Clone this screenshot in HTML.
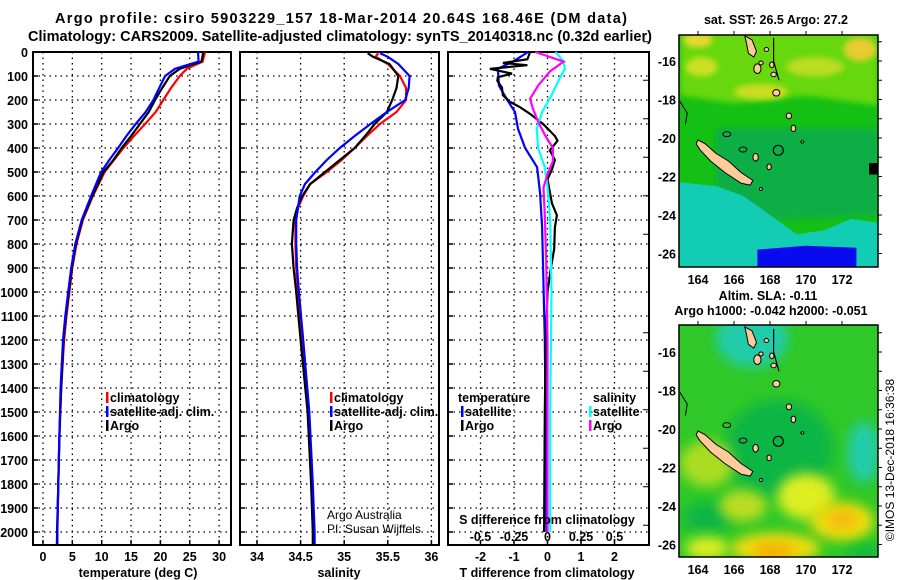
<!DOCTYPE html>
<html><head><meta charset="utf-8"><style>
body{margin:0;background:#fff}
svg{display:block;font-family:"Liberation Sans",sans-serif}
.b{font-weight:bold;font-size:12.5px}
.t{font-size:12px}
</style></head><body>
<svg id="s" width="900" height="580" viewBox="0 0 900 580">
<defs>
<clipPath id="c1"><rect x="679" y="35" width="199" height="232"/></clipPath>
<clipPath id="c2"><rect x="679" y="325" width="199" height="232"/></clipPath>
<filter id="bl" x="-50%" y="-50%" width="200%" height="200%"><feGaussianBlur stdDeviation="6"/></filter>
<filter id="bl2" x="-50%" y="-50%" width="200%" height="200%"><feGaussianBlur stdDeviation="3"/></filter>
</defs>
<text x="341" y="23" text-anchor="middle" class="b" style="font-size:14.5px" textLength="572">Argo profile: csiro 5903229_157 18-Mar-2014 20.64S 168.46E (DM data)</text>
<text x="340" y="41" text-anchor="middle" class="b" style="font-size:14.5px" textLength="624">Climatology: CARS2009. Satellite-adjusted climatology: synTS_20140318.nc (0.32d earlier)</text>
<g id="maps"></g>
<g id="plots"></g>
</svg>
<script>
// ---- Data ----
const tDepth=[0,40,55,70,100,150,200,250,300,350,400,450,500,600,700,800,900,1000,1100,1200,1400,1600,1800,2000,2050];
const tArgo=[27.3,27.0,25.0,23.3,21.6,20.3,19.1,18.0,16.5,15.0,13.4,12.0,10.3,8.4,6.7,5.6,4.9,4.4,3.9,3.5,3.1,2.8,2.6,2.4,2.4];
const tClim=[27.6,27.2,25.8,24.5,23.3,21.8,20.5,19.2,17.4,15.5,13.7,12.1,10.5,8.5,6.8,5.7,5.0,4.5,4.0,3.6,3.1,2.8,2.6,2.4,2.35];
const tSat=[26.4,26.5,24.5,22.5,20.8,19.8,18.8,17.5,15.8,14.2,12.8,11.3,9.9,8.2,6.6,5.5,4.8,4.3,3.8,3.4,3.0,2.8,2.6,2.45,2.45];
const sDepth=[5,20,50,100,150,200,250,300,350,400,450,500,550,600,650,700,800,900,1000,1200,1500,1800,2000,2050];
const sArgo=[35.27,35.33,35.52,35.62,35.60,35.55,35.49,35.35,35.24,35.12,34.95,34.78,34.61,34.52,34.46,34.42,34.40,34.42,34.45,34.50,34.58,34.62,34.64,34.64];
const sClim=[35.39,35.36,35.50,35.64,35.71,35.71,35.60,35.41,35.26,35.12,34.97,34.80,34.61,34.53,34.47,34.44,34.44,34.45,34.47,34.52,34.59,34.63,34.65,34.66];
const sSat=[35.41,35.50,35.62,35.75,35.74,35.70,35.49,35.30,35.12,34.95,34.80,34.67,34.55,34.49,34.47,34.45,34.45,34.46,34.48,34.53,34.60,34.64,34.66,34.66];
const dtArgoDepth=[0,30,46,55,70,90,105,120,148,180,208,230,258,300,350,370,410,450,490,530,630,680,730,820,900,1000,1200,1500,2000];
const dtArgo=[-0.52,-0.6,-1.33,-0.6,-1.72,-1.06,-1.48,-1.5,-1.36,-1.33,-1.12,-0.82,-0.52,-0.13,0.22,0.3,0.07,0.22,0.13,0.0,0.13,0.28,0.22,0.2,0.1,0.0,-0.05,-0.08,-0.1];
const dtSatDepth=[0,40,70,140,200,250,320,400,480,530,590,730,900,1200,1600,2000];
const dtSat=[-0.58,-1.03,-1.48,-1.45,-1.2,-0.97,-0.88,-0.67,-0.31,-0.27,-0.22,-0.16,-0.13,-0.08,-0.05,-0.03];
const dsArgoDepth=[0,40,80,140,195,235,290,345,400,455,510,565,680,870,1200,2000];
const dsArgo=[-0.09,0.12,0.02,-0.07,-0.13,-0.11,-0.07,-0.02,0.04,0.04,0.0,-0.03,-0.02,-0.01,0.0,0.0];
const dsSatDepth=[0,40,70,110,180,250,320,400,480,560,700,1000,1500,2000];
const dsSat=[0.06,0.12,0.13,0.09,0.03,-0.04,-0.08,-0.07,-0.02,0.0,0.02,0.03,0.02,0.02];
const depthTicks=[0,100,200,300,400,500,600,700,800,900,1000,1100,1200,1300,1400,1500,1600,1700,1800,1900,2000];
const tTicks=[0,5,10,15,20,25,30];
const sTicks=[34,34.5,35,35.5,36];
const sTickLabels=["34","34.5","35","35.5","36"];
const dTTicks=[-2,-1,0,1,2];
const dSTicks=[-0.5,-0.25,0,0.25,0.5];
const dSTickLabels=["-0.5","-0.25","0","0.25","0.5"];
const lonTicks=[164,166,168,170,172];
const latTicks=[-16,-18,-20,-22,-24,-26];

// ---- Scales ----
const yD=d=>52+d*0.24;
const xT=v=>43+v*5.87;
const xS=v=>257+(v-34)*87.2;
const xDT=v=>547.5+v*33.5;
const xDS=v=>547.5+v*134;
const NS="http://www.w3.org/2000/svg";
function mk(tag,attrs,parent,txt){const e=document.createElementNS(NS,tag);for(const k in attrs)e.setAttribute(k,attrs[k]);if(txt!==undefined)e.textContent=txt;parent.appendChild(e);return e;}
const P=document.getElementById('plots');
const M=document.getElementById('maps');

function panel(name,x0,x1,gridX,xs){
  const g=mk('g',{},P);
  
  
  depthTicks.forEach(d=>{ if(d>0){const l=mk('line',{x1:x0,x2:x1,y1:yD(d),y2:yD(d),stroke:'#000','stroke-width':1.3,'stroke-dasharray':'1.5,4'},g);
    
    }
    mk('line',{x1:x0,x2:x0+5,y1:yD(d),y2:yD(d),stroke:'#000','stroke-width':1.5},g);});
  gridX.forEach(v=>{const l=mk('line',{x1:xs(v),x2:xs(v),y1:52,y2:545,stroke:'#000','stroke-width':1.3,'stroke-dasharray':'1.5,4'},g);
    
    
    mk('line',{x1:xs(v),x2:xs(v),y1:545,y2:540,stroke:'#000','stroke-width':1.5},g);});
  const r=mk('rect',{x:x0,y:52,width:x1-x0,height:493,fill:'none',stroke:'#000','stroke-width':2},g);
  
  
  return g;
}
function line(g,name,depths,vals,xs,color){
  const pts=depths.map((d,i)=>xs(vals[i]).toFixed(1)+','+yD(d).toFixed(1)).join(' ');
  const p=mk('polyline',{points:pts,fill:'none',stroke:color,'stroke-width':2.2},g);
  
  
}
function txt(x,y,s,cls,anchor,name,color){
  const t=mk('text',{x:x,y:y,class:cls,'text-anchor':anchor||'start',fill:color||'#000'},P,s);
  
  
  return t;
}
function legendEntry(x,y,label,color,name){
  const b=mk('rect',{x:x-4,y:y-10,width:2.5,height:11,fill:color},P);
  
  
  txt(x,y,label,'b','start',name);
}

depthTicks.forEach(d=>{txt(28,yD(d)+5,String(d),'b','end','y-tick-label');});

// Panel 1
const g1=panel('temperature-panel',33,231,tTicks,xT);
line(g1,'temperature-climatology',tDepth,tClim,xT,'#f00');
line(g1,'temperature-argo',tDepth,tArgo,xT,'#000');
line(g1,'temperature-satellite',tDepth,tSat,xT,'#00f');
tTicks.forEach(v=>txt(xT(v),561,String(v),'b','middle','x-tick-label'));
txt(138,577,'temperature (deg C)','b','middle','x-axis-title');
legendEntry(110,402,'climatology','#f00','legend-climatology');
legendEntry(110,416,'satellite-adj. clim.','#00f','legend-satellite');
legendEntry(110,430,'Argo','#000','legend-argo');

// Panel 2
const g2=panel('salinity-panel',240,439,sTicks,xS);
line(g2,'salinity-climatology',sDepth,sClim,xS,'#f00');
line(g2,'salinity-argo',sDepth,sArgo,xS,'#000');
line(g2,'salinity-satellite',sDepth,sSat,xS,'#00f');
sTicks.forEach((v,i)=>txt(xS(v),561,sTickLabels[i],'b','middle','x-tick-label'));
txt(339,577,'salinity','b','middle','x-axis-title');
legendEntry(334,402,'climatology','#f00','legend-climatology');
legendEntry(334,416,'satellite-adj. clim.','#00f','legend-satellite');
legendEntry(334,430,'Argo','#000','legend-argo');
txt(327,519,'Argo Australia','t','start','credit-argo-australia');
txt(327,533,'PI: Susan Wijffels','t','start','credit-pi');

// Panel 3
const g3=panel('difference-panel',448,649,dTTicks,xDT);
line(g3,'t-diff-satellite',dtSatDepth,dtSat,xDT,'#00f');
line(g3,'t-diff-argo',dtArgoDepth,dtArgo,xDT,'#000');
line(g3,'s-diff-satellite',dsSatDepth,dsSat,xDS,'#0ff');
line(g3,'s-diff-argo',dsArgoDepth,dsArgo,xDS,'#f0f');
dTTicks.forEach(v=>txt(xDT(v),561,String(v),'b','middle','x-tick-label'));
dSTicks.forEach((v,i)=>txt(xDS(v),541,dSTickLabels[i],'b','middle','s-tick-label'));
txt(547,524,'S difference from climatology','b','middle','s-axis-title');
txt(547,577,'T difference from climatology','b','middle','x-axis-title');
txt(458,402,'temperature','b','start','legend-temperature-heading');
legendEntry(465,416,'satellite','#00f','legend-t-satellite');
legendEntry(465,430,'Argo','#000','legend-t-argo');
txt(593,402,'salinity','b','start','legend-salinity-heading');
legendEntry(593,416,'satellite','#0ff','legend-s-satellite');
legendEntry(593,430,'Argo','#f0f','legend-s-argo');

// ---- Maps ----
const lx=l=>698+(l-164)*18;
function map(name,top,lat16,clip){
  const ly=l=>lat16+(-16-l)*19.25;
  const g=mk('g',{'clip-path':'url(#'+clip+')'},M);
  
  
  return {g,ly};
}
function poly(g,pts,ly,fill,extra){return mk('polygon',Object.assign({points:pts.map(p=>lx(p[0])+','+ly(p[1])).join(' '),fill:fill},extra||{}),g);}
function ell(g,lo,la,rx,ry,ly,fill,extra){return mk('ellipse',Object.assign({cx:lx(lo),cy:ly(la),rx:rx*18,ry:ry*19.25,fill:fill},extra||{}),g);}
function islands(g,ly){
  const ig=mk('g',{},g);
  
  
  poly(ig,[[164.0,-20.1],[164.4,-20.3],[165.0,-20.8],[165.7,-21.2],[166.4,-21.8],[167.05,-22.2],[166.9,-22.45],[166.4,-22.35],[165.5,-21.8],[164.7,-21.2],[164.1,-20.6],[163.9,-20.3]],ly,'#ffcc99',{stroke:'#000','stroke-width':1});
  poly(ig,[[166.6,-14.7],[167.0,-14.9],[167.25,-15.5],[167.1,-15.8],[166.8,-15.6],[166.7,-15.1]],ly,'#ffcc99',{stroke:'#000','stroke-width':1});
  [[167.3,-16.4,0.2,0.25],[167.5,-16.1,0.12,0.1],[167.8,-15.4,0.13,0.1],[168.1,-16.2,0.12,0.15],[168.2,-16.7,0.15,0.12],[168.35,-17.65,0.2,0.17],[169.05,-18.85,0.15,0.15],[169.3,-19.5,0.13,0.17],[167.2,-21.0,0.15,0.2],[167.95,-21.5,0.12,0.15],[169.8,-20.2,0.08,0.06],[167.5,-22.65,0.08,0.08]].forEach(a=>ell(ig,a[0],a[1],a[2],a[3],ly,'#ffcc99',{stroke:'#000','stroke-width':1}));
  ell(ig,165.6,-19.8,0.22,0.13,ly,'none',{stroke:'#000','stroke-width':1});
  ell(ig,166.5,-20.6,0.22,0.13,ly,'none',{stroke:'#000','stroke-width':1});
  mk('polyline',{points:[[168.2,-14.8],[168.2,-16.0],[168.5,-17.0]].map(p=>lx(p[0])+','+ly(p[1])).join(' '),fill:'none',stroke:'#000','stroke-width':1.2},ig);
  mk('polyline',{points:[[163,-18.1],[163.4,-18.7],[163.3,-19.3]].map(p=>lx(p[0])+','+ly(p[1])).join(' '),fill:'none',stroke:'#000','stroke-width':1},ig);
  const c=mk('circle',{cx:lx(168.46),cy:ly(-20.64),r:5,fill:'none',stroke:'#000','stroke-width':1.2},g);
  
  
}
function frame(top,ly,bottomLblY){
  const r=mk('rect',{x:679,y:top,width:199,height:232,fill:'none',stroke:'#000','stroke-width':1.5},M);
  
  
  lonTicks.forEach(l=>{mk('line',{x1:lx(l),x2:lx(l),y1:top,y2:top-4,stroke:'#000'},M);
    const t=mk('text',{x:lx(l),y:bottomLblY,'text-anchor':'middle',class:'b'},M,String(l));
    
    });
  for(let la=-15;la>=-26;la--){const y=ly(la);
    if(y<top||y>top+232)continue;
    mk('line',{x1:878,x2:882,y1:y,y2:y,stroke:'#000'},M);
    if(la%2) mk('line',{x1:643,x2:648,y1:y,y2:y,stroke:'#000'},M);}
  latTicks.forEach(la=>{const t=mk('text',{x:676,y:ly(la)+5,'text-anchor':'end',class:'b'},M,String(la));
    
    });
}
// Map 1: SST
const m1=map('sst-map',35,61,'c1');
mk('rect',{x:679,y:35,width:199,height:232,fill:'#14c014'},m1.g);
poly(m1.g,[[163,-14],[174,-14],[174,-18.3],[170,-17.8],[166,-18.2],[163,-17.8]],m1.ly,'#66d80c',{filter:'url(#bl2)'});
ell(m1.g,173,-15.4,0.9,0.6,m1.ly,'#e8cc33',{filter:'url(#bl2)'});
ell(m1.g,170.5,-16.3,1.6,0.5,m1.ly,'#bbdd22',{filter:'url(#bl2)'});
ell(m1.g,167.5,-17.6,1.5,0.4,m1.ly,'#ccdd22',{filter:'url(#bl2)'});
ell(m1.g,164.2,-16.3,0.9,0.5,m1.ly,'#cce022',{filter:'url(#bl2)'});
ell(m1.g,164,-14.9,0.8,0.4,m1.ly,'#e8d833',{filter:'url(#bl2)'});
poly(m1.g,[[165,-19.5],[174,-19.5],[174,-24],[168,-24.3],[165,-22.5]],m1.ly,'#0eae44',{filter:'url(#bl2)'});
poly(m1.g,[[163,-22.3],[165,-22.5],[166.5,-23.0],[168,-24.0],[169.5,-25.0],[171,-24.8],[172.5,-24.2],[174,-24.4],[174,-27],[163,-27]],m1.ly,'#12ccb4');
poly(m1.g,[[167.3,-25.8],[170,-25.6],[172.8,-25.7],[172.8,-26.7],[167.3,-26.7]],m1.ly,'#0a0aee');
poly(m1.g,[[163,-25.8],[167.2,-25.8],[167.2,-26.3],[163,-26.3]],m1.ly,'#12ccb4');
poly(m1.g,[[173.5,-21.3],[174,-21.3],[174,-21.9],[173.5,-21.9]],m1.ly,'#000');
islands(m1.g,m1.ly);
frame(35,m1.ly,284);
// Map 2: SLA
const m2=map('sla-map',325,352,'c2');
mk('rect',{x:679,y:325,width:199,height:232,fill:'#2fc828'},m2.g);
ell(m2.g,168.5,-21,3,2.5,m2.ly,'#11b544',{filter:'url(#bl)'});
ell(m2.g,164.5,-24.6,1.3,0.8,m2.ly,'#11b544',{filter:'url(#bl)'});
ell(m2.g,167,-15.3,2,1.5,m2.ly,'#22ccaa',{filter:'url(#bl)'});
ell(m2.g,173.2,-21.2,0.9,1.6,m2.ly,'#22ccaa',{filter:'url(#bl)'});
ell(m2.g,164.5,-21.8,1.5,1.2,m2.ly,'#aadd22',{filter:'url(#bl)'});
ell(m2.g,166.5,-24,1.3,0.8,m2.ly,'#bbdd22',{filter:'url(#bl)'});
ell(m2.g,170,-23.5,1.6,1.2,m2.ly,'#ddee22',{filter:'url(#bl)'});
ell(m2.g,172,-24.8,1.8,1.0,m2.ly,'#eedd11',{filter:'url(#bl)'});
ell(m2.g,172,-24.7,0.8,0.5,m2.ly,'#f5b811',{filter:'url(#bl)'});
ell(m2.g,168.3,-26.2,2.5,0.8,m2.ly,'#eedd11',{filter:'url(#bl)'});
ell(m2.g,168.2,-26.4,1.2,0.5,m2.ly,'#f5b000',{filter:'url(#bl)'});
ell(m2.g,164.5,-26.2,1.2,0.6,m2.ly,'#ddee22',{filter:'url(#bl)'});
ell(m2.g,173.3,-26.5,1,0.4,m2.ly,'#11b544',{filter:'url(#bl)'});
islands(m2.g,m2.ly);
frame(325,m2.ly,574);
[[776,24,'sat. SST: 26.5 Argo: 27.2','sst-map-title'],[768,300,'Altim. SLA: -0.11','sla-map-title'],[771,315,'Argo h1000: -0.042 h2000: -0.051','sla-map-subtitle']].forEach(a=>{
  const t=mk('text',{x:a[0],y:a[1],'text-anchor':'middle',class:'b'},M,a[2]);
  
  });
const cr=mk('text',{x:0,y:0,transform:'translate(894,460) rotate(-90)','text-anchor':'middle',class:'t'},M,'©IMOS 13-Dec-2018 16:36:38');


</script>
</body></html>
